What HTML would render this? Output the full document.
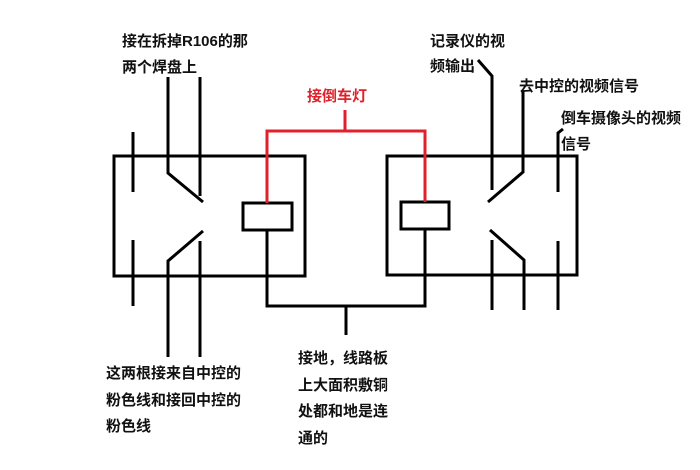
<!DOCTYPE html>
<html><head><meta charset="utf-8"><style>
body{margin:0;width:700px;height:470px;background:#fff;overflow:hidden}
svg{display:block}
text{font-family:"Liberation Sans","Noto Sans CJK SC",sans-serif;font-weight:bold;font-size:15px;fill:#111}
</style></head><body>
<svg width="700" height="470" viewBox="0 0 700 470">
<g stroke="#000" stroke-width="3" fill="none">
<rect x="114" y="156" width="191" height="120"/>
<rect x="243" y="203" width="49" height="27"/>
<line x1="133" y1="132" x2="133" y2="192"/>
<line x1="133" y1="240" x2="133" y2="306"/>
<polyline points="168,77 168,173 203,202"/>
<line x1="200" y1="77" x2="200" y2="196"/>
<polyline points="203,231 168,261 168,357"/>
<line x1="200" y1="241" x2="200" y2="357"/>
<polyline points="267,230 267,306 425,306 425,229"/>
<line x1="346" y1="306" x2="346" y2="335"/>
<rect x="387" y="156" width="190" height="119"/>
<rect x="401" y="202" width="48" height="27"/>
<polyline points="478,60 492,76 492,190"/>
<polyline points="523,90 523,172 488,202"/>
<polyline points="563,129 558,133 558,192"/>
<line x1="492" y1="240" x2="492" y2="310"/>
<polyline points="490,230 524,260 524,310"/>
<line x1="558" y1="241" x2="558" y2="310"/>
</g>
<g stroke="#e0202a" stroke-width="3" fill="none">
<polyline points="267,203 267,131 425,131 425,202"/>
<line x1="345" y1="131" x2="345" y2="110"/>
</g>
<text x="122" y="46">接在拆掉R106的那</text>
<text x="122" y="72">两个焊盘上</text>
<text x="307" y="101" style="fill:#e0202a">接倒车灯</text>
<text x="430" y="46">记录仪的视</text>
<text x="430" y="71">频输出</text>
<text x="519" y="91">去中控的视频信号</text>
<text x="561" y="123">倒车摄像头的视频</text>
<text x="561" y="149">信号</text>
<text x="106" y="378">这两根接来自中控的</text>
<text x="106" y="405">粉色线和接回中控的</text>
<text x="106" y="431">粉色线</text>
<text x="298" y="363">接地，线路板</text>
<text x="298" y="390">上大面积敷铜</text>
<text x="298" y="416">处都和地是连</text>
<text x="298" y="443">通的</text>
</svg>
</body></html>
